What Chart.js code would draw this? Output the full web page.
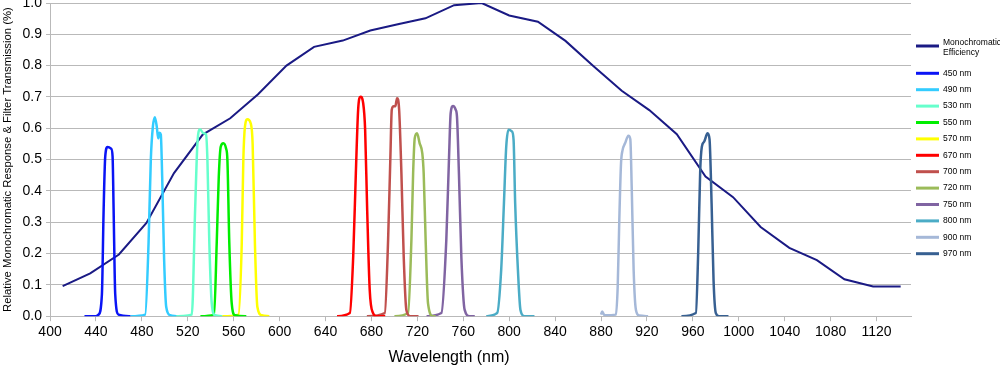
<!DOCTYPE html>
<html>
<head>
<meta charset="utf-8">
<script src="https://cdn.jsdelivr.net/npm/chart.js@4.4.1/dist/chart.umd.min.js"></script>
<style>
  html, body { margin: 0; padding: 0; background: #fff; }
  canvas { display: block; }
</style>
</head>
<body>
<canvas id="chart" width="1000" height="367"></canvas>
<script>
// monochromatic efficiency of the detector
var monoWl  = [411, 435, 460, 484, 508, 533, 557, 581, 606, 630, 655, 679, 703, 727, 752, 776,
               800, 825, 849, 873, 898, 922, 946, 971, 995, 1019, 1044, 1068, 1092, 1117, 1141];
var monoEff = [0.096, 0.137, 0.197, 0.298, 0.457, 0.58, 0.632, 0.708, 0.80, 0.86, 0.88, 0.912, 0.932, 0.951, 0.993, 1.0,
               0.96, 0.94, 0.879, 0.80, 0.72, 0.658, 0.581, 0.446, 0.38, 0.285, 0.218, 0.179, 0.118, 0.095, 0.095];

// filter transmission curves (wavelength in nm, transmission 0..1)
var wl450 = [430, 440, 442.3, 445.2, 446.7, 448.1, 450.1, 453.3, 454.5, 455.4, 456.8, 459.7, 470];
var tr450 = [0, 0, 0.005, 0.07, 0.34, 0.51, 0.54, 0.535, 0.51, 0.34, 0.07, 0.005, 0];

var wl490 = [470, 482.9, 485.8, 487.8, 489.6, 491.3, 493, 494.2, 495.4, 496.5, 497.7, 499.4, 501.2, 504.6, 510];
var tr490 = [0, 0.005, 0.23, 0.5, 0.605, 0.635, 0.605, 0.568, 0.586, 0.58, 0.445, 0.18, 0.03, 0.003, 0];

var wl530 = [506, 523.5, 526.4, 528.4, 530.7, 533.6, 535.9, 537.1, 538.8, 540.9, 543.7, 550];
var tr530 = [0, 0.005, 0.34, 0.552, 0.597, 0.584, 0.58, 0.5, 0.23, 0.04, 0.003, 0];

var wl550 = [531, 542.9, 545.2, 547, 548.7, 551, 553.3, 554.5, 556.2, 558.3, 561.1, 571];
var tr550 = [0, 0.005, 0.232, 0.445, 0.541, 0.552, 0.536, 0.5, 0.23, 0.04, 0.003, 0];

var wl570 = [550, 564.1, 567, 568.4, 569.8, 571.9, 574.8, 576.5, 578.5, 580.6, 584.3, 591];
var tr570 = [0, 0.005, 0.23, 0.5, 0.605, 0.629, 0.616, 0.55, 0.23, 0.03, 0.003, 0];

var wl670 = [650, 661.2, 664.1, 666.4, 668.4, 670.4, 672.8, 674.5, 676.2, 678.5, 681.4, 684.3, 692];
var tr670 = [0, 0.01, 0.19, 0.456, 0.659, 0.701, 0.68, 0.595, 0.35, 0.083, 0.01, 0, 0];

var wl700 = [676, 691.6, 694.5, 696.5, 697.7, 699.4, 700.8, 702.3, 704.1, 706.1, 708.1, 710.4, 713.9, 721];
var tr700 = [0, 0.01, 0.243, 0.51, 0.659, 0.67, 0.67, 0.696, 0.66, 0.456, 0.19, 0.02, 0, 0];

var wl720 = [700, 711.9, 714.8, 716.3, 717.7, 719.7, 722, 724.3, 725.5, 727.2, 729.3, 733.6, 736];
var tr720 = [0, 0.01, 0.243, 0.456, 0.568, 0.584, 0.552, 0.52, 0.456, 0.243, 0.04, 0, 0];

var wl750 = [728, 740.9, 745.2, 747.6, 749, 751, 753.3, 754.5, 756.2, 758.3, 761.2, 765.5, 770];
var tr750 = [0, 0.01, 0.243, 0.51, 0.648, 0.671, 0.66, 0.637, 0.456, 0.19, 0.02, 0, 0];

var wl800 = [780, 789.5, 793, 795.4, 797.4, 799.4, 802.3, 803.8, 805.2, 807.6, 809.8, 813.3, 822];
var tr800 = [0, 0.01, 0.147, 0.36, 0.541, 0.595, 0.59, 0.563, 0.36, 0.147, 0.02, 0, 0];

var wl900 = [880, 881, 883, 893, 894.5, 895.9, 897.4, 898.8, 900.9, 903.8, 905.5, 906.7, 908.4, 910.4, 913.3, 921];
var tr900 = [0.005, 0.015, 0.003, 0.005, 0.094, 0.307, 0.488, 0.531, 0.552, 0.576, 0.565, 0.414, 0.147, 0.02, 0.002, 0];

var wl970 = [950, 962.6, 964.6, 966.4, 967.8, 969.8, 972.8, 974.5, 976.3, 978, 980, 982.9, 991];
var tr970 = [0, 0.01, 0.2, 0.467, 0.541, 0.557, 0.584, 0.565, 0.36, 0.115, 0.01, 0, 0];

var filterLabels = ['450 nm', '490 nm', '530 nm', '550 nm', '570 nm', '670 nm',
                    '700 nm', '720 nm', '750 nm', '800 nm', '900 nm', '970 nm'];
var filterWl = [wl450, wl490, wl530, wl550, wl570, wl670, wl700, wl720, wl750, wl800, wl900, wl970];
var filterTr = [tr450, tr490, tr530, tr550, tr570, tr670, tr700, tr720, tr750, tr800, tr900, tr970];
var filterColors = ['#0a14f5', '#33ccff', '#66ffcc', '#00ee00', '#ffff00', '#ff0000',
                    '#c0504d', '#9bbb59', '#8064a2', '#4bacc6', '#a5b8d8', '#376092'];

var xTicks = [400, 440, 480, 520, 560, 600, 640, 680, 720, 760, 800, 840, 880, 920, 960, 1000, 1040, 1080, 1120];

var FONT = '"Liberation Sans", Arial, sans-serif';
var GRID = '#b9b9b9';

function pts(xs, ys) {
    return xs.map(function(x, i) { return { x: x, y: ys[i] }; });
}

var datasets = filterLabels.map(function(label, i) {
    return {
        label: label,
        data: pts(filterWl[i], filterTr[i]),
        borderColor: filterColors[i],
        borderWidth: 2.5,
        cubicInterpolationMode: 'monotone',
        pointRadius: 0,
        fill: false
    };
});
datasets.push({
    label: 'Monochromatic Efficiency',
    data: pts(monoWl, monoEff),
    borderColor: '#1a1a84',
    borderWidth: 2,
    tension: 0,
    pointRadius: 0,
    fill: false
});

// legend on the right, plus the x title
var sideLegend = {
    id: 'sideLegend',
    afterDraw: function(chart) {
        var ctx = chart.ctx;
        ctx.save();
        ctx.font = '8.5px ' + FONT;
        ctx.fillStyle = '#000';
        ctx.textBaseline = 'middle';
        ctx.lineWidth = 3;
        var x0 = 916, x1 = 939, tx = 943;
        var mono = chart.data.datasets[chart.data.datasets.length - 1];
        ctx.strokeStyle = mono.borderColor;
        ctx.beginPath(); ctx.moveTo(x0, 46); ctx.lineTo(x1, 46); ctx.stroke();
        ctx.fillText('Monochromatic', tx, 42.5);
        ctx.fillText('Efficiency', tx, 52.5);
        for (var i = 0; i < filterLabels.length; i++) {
            var y = 73.3 + i * 16.4;
            ctx.strokeStyle = filterColors[i];
            ctx.beginPath(); ctx.moveTo(x0, y); ctx.lineTo(x1, y); ctx.stroke();
            ctx.fillText(filterLabels[i], tx, y);
        }
        ctx.font = '16px ' + FONT;
        ctx.textAlign = 'center';
        ctx.fillText('Wavelength (nm)', 449, 358);
        ctx.restore();
    }
};

new Chart(document.getElementById('chart').getContext('2d'), {
    type: 'line',
    data: { datasets: datasets },
    plugins: [sideLegend],
    options: {
        responsive: false,
        animation: false,
        layout: { padding: { top: 0, right: 89, bottom: 23, left: 0 } },
        plugins: {
            legend: { display: false },
            tooltip: { enabled: false }
        },
        scales: {
            x: {
                type: 'linear',
                min: 400,
                max: 1150,
                afterBuildTicks: function(axis) {
                    axis.ticks = xTicks.map(function(v) { return { value: v }; });
                },
                grid: { drawOnChartArea: false, drawTicks: true, tickLength: 5, color: GRID },
                border: { color: GRID },
                ticks: {
                    autoSkip: false, maxRotation: 0, padding: 3, color: '#000',
                    font: { family: FONT, size: 14 },
                    callback: function(v) { return String(v); }
                }
            },
            y: {
                min: 0,
                max: 1,
                afterFit: function(axis) {
                    axis.paddingTop = 3;
                },
                ticks: {
                    stepSize: 0.1, padding: 4, color: '#000',
                    font: { family: FONT, size: 14 },
                    callback: function(v) { return v.toFixed(1); }
                },
                grid: { color: GRID, tickLength: 4 },
                border: { color: GRID },
                title: {
                    display: true,
                    text: 'Relative Monochromatic Response & Filter Transmission (%)',
                    color: '#000',
                    font: { family: FONT, size: 11.3 },
                    padding: { top: 1, bottom: 4 }
                }
            }
        }
    }
});
</script>
</body>
</html>
